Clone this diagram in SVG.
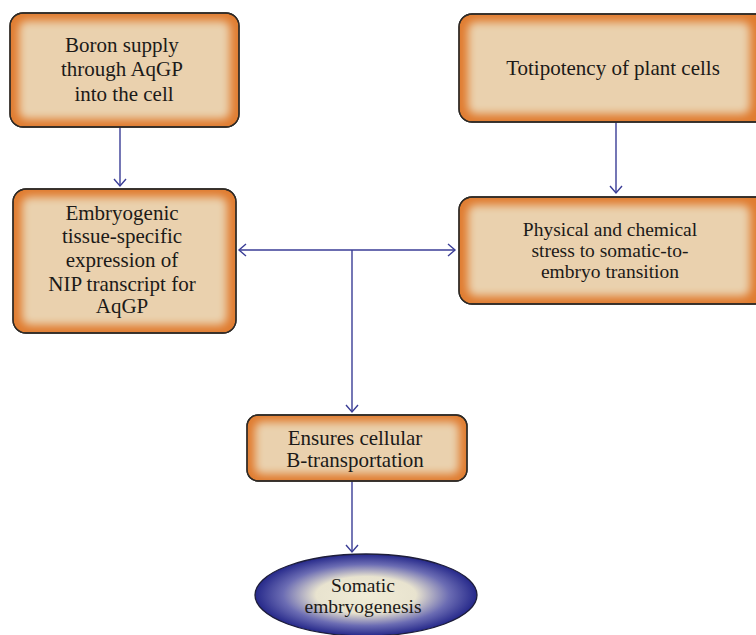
<svg xmlns="http://www.w3.org/2000/svg" width="756" height="635" viewBox="0 0 756 635">
<style>
.box{fill:#e07c30;stroke:#2e2a26;stroke-width:1.3}
.inner{fill:#ead1ae;filter:url(#soft)}
.lbl{font-family:'Liberation Serif','Times New Roman',serif;font-size:21px;fill:#1c1a18;text-anchor:middle}
.tight{font-size:19.5px}
.conn{stroke:#3a3d96;stroke-width:1.4;fill:none}
</style>
<defs>
<filter id="soft" x="-20%" y="-20%" width="140%" height="140%">
<feGaussianBlur stdDeviation="4"/>
</filter>
<radialGradient id="ell" cx="50%" cy="50%" r="50%">
<stop offset="0" stop-color="#f1ecd6"/>
<stop offset="0.45" stop-color="#e8e3cf"/>
<stop offset="0.75" stop-color="#6b6cb3"/>
<stop offset="1" stop-color="#25288a"/>
</radialGradient>
<clipPath id="c1"><rect x="10" y="13" width="229" height="114" rx="13"/></clipPath>
<clipPath id="c2"><rect x="13" y="189" width="223" height="144" rx="13"/></clipPath>
<clipPath id="c3"><rect x="459" y="14" width="310" height="108" rx="13"/></clipPath>
<clipPath id="c4"><rect x="459" y="197" width="310" height="107" rx="13"/></clipPath>
<clipPath id="c5"><rect x="247" y="415" width="220" height="66" rx="11"/></clipPath>
<marker id="arr" markerUnits="userSpaceOnUse" markerWidth="14" markerHeight="14" refX="8" refY="7" orient="auto-start-reverse">
<path d="M1,1 L8,7 L1,13" fill="none" stroke="#3a3d96" stroke-width="1.4"/>
</marker>
</defs>

<g id="connectors">
<line class="conn" x1="120" y1="127" x2="120" y2="186" marker-end="url(#arr)"/>
<line class="conn" x1="616" y1="122" x2="616" y2="193" marker-end="url(#arr)"/>
<line class="conn" x1="239" y1="250" x2="455" y2="250" marker-start="url(#arr)" marker-end="url(#arr)"/>
<line class="conn" x1="352" y1="250" x2="352" y2="412" marker-end="url(#arr)"/>
<line class="conn" x1="352" y1="481" x2="352" y2="552" marker-end="url(#arr)"/>
</g>

<g id="node-boron">
<rect class="box" x="10" y="13" width="229" height="114" rx="13"/>
<g clip-path="url(#c1)"><rect class="inner" x="19" y="21" width="211" height="98" rx="8"/></g>
<rect x="10" y="13" width="229" height="114" rx="13" fill="none" stroke="#2e2a26" stroke-width="1.3"/>
<text class="lbl" font-family="'Liberation Serif', serif"><tspan x="122" y="52">Boron supply</tspan><tspan x="122" y="76">through AqGP</tspan><tspan x="124" y="101">into the cell</tspan></text>
</g>

<g id="node-embryogenic">
<rect class="box" x="13" y="189" width="223" height="144" rx="13"/>
<g clip-path="url(#c2)"><rect class="inner" x="22" y="197" width="205" height="128" rx="8"/></g>
<rect x="13" y="189" width="223" height="144" rx="13" fill="none" stroke="#2e2a26" stroke-width="1.3"/>
<text class="lbl" font-family="'Liberation Serif', serif"><tspan x="122" y="220">Embryogenic</tspan><tspan x="122" y="243">tissue-specific</tspan><tspan x="122" y="267">expression of</tspan><tspan x="122" y="291">NIP transcript for</tspan><tspan x="122" y="313">AqGP</tspan></text>
</g>

<g id="node-totipotency">
<rect class="box" x="459" y="14" width="310" height="108" rx="13"/>
<g clip-path="url(#c3)"><rect class="inner" x="468" y="22" width="282" height="92" rx="8"/></g>
<rect x="459" y="14" width="310" height="108" rx="13" fill="none" stroke="#2e2a26" stroke-width="1.3"/>
<text class="lbl" font-family="'Liberation Serif', serif" x="613" y="75">Totipotency of plant cells</text>
</g>

<g id="node-stress">
<rect class="box" x="459" y="197" width="310" height="107" rx="13"/>
<g clip-path="url(#c4)"><rect class="inner" x="468" y="205" width="282" height="91" rx="8"/></g>
<rect x="459" y="197" width="310" height="107" rx="13" fill="none" stroke="#2e2a26" stroke-width="1.3"/>
<text class="lbl tight" font-family="'Liberation Serif', serif"><tspan x="610" y="236">Physical and chemical</tspan><tspan x="610" y="257">stress to somatic-to-</tspan><tspan x="610" y="278">embryo transition</tspan></text>
</g>

<g id="node-ensures">
<rect class="box" x="247" y="415" width="220" height="66" rx="11"/>
<g clip-path="url(#c5)"><rect class="inner" x="255" y="422" width="204" height="52" rx="7"/></g>
<rect x="247" y="415" width="220" height="66" rx="11" fill="none" stroke="#2e2a26" stroke-width="1.3"/>
<text class="lbl" font-family="'Liberation Serif', serif"><tspan x="355" y="445">Ensures cellular</tspan><tspan x="355" y="467">B-transportation</tspan></text>
</g>

<g id="node-somatic">
<ellipse cx="366" cy="595" rx="111" ry="41" fill="url(#ell)" stroke="#1e1e3a" stroke-width="1.3"/>
<text class="lbl tight" font-family="'Liberation Serif', serif"><tspan x="363" y="592">Somatic</tspan><tspan x="363" y="613">embryogenesis</tspan></text>
</g>
</svg>
